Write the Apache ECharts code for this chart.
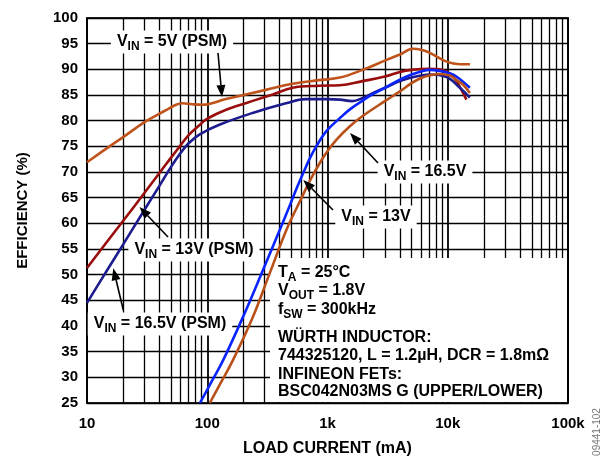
<!DOCTYPE html>
<html><head><meta charset="utf-8">
<script src="https://cdn.jsdelivr.net/npm/echarts/dist/echarts.min.js"></script>
<style>html,body{margin:0;padding:0;background:#fff}#c{width:603px;height:456px}</style>
</head><body><div id="c"></div>
<script>
// ---- data (load current in mA, efficiency in %) ----
const xTickLabels = { 10: '10', 100: '100', 1000: '1k', 10000: '10k', 100000: '100k' };
const minorGridX = [20,30,40,50,60,70,80,90,200,300,400,500,600,700,800,900,2000,3000,4000,5000,6000,7000,8000,9000,20000,30000,40000,50000,60000,70000,80000,90000];

const vin5Psm = [[10,71.9],[15,74.8],[20,76.8],[31,79.9],[45,82.0],[55,83.1],[62,83.4],[75,83.2],[91,83.1],[143,84.2],[307,86.0],[513,87.2],[850,87.9],[1267,88.4],[1960,89.9],[3000,91.7],[4000,92.9],[5150,94.0],[6000,93.8],[7100,93.2],[9770,91.5],[12600,91.0],[15300,91.0]];
const vin13Psm = [[10,51.3],[15,56.7],[20,60.5],[30,65.9],[40,69.8],[50,72.8],[60,75.2],[70,77.2],[85,79.0],[97.5,80.2],[130,81.7],[173,82.8],[250,84.0],[350,85.1],[513,86.4],[850,86.8],[1267,86.9],[1960,87.7],[3000,88.6],[4000,89.5],[5000,89.9],[7000,90.1],[8500,90.0],[10400,89.2],[11800,87.7],[13000,86.0],[14300,84.1]];
const vin165Psm = [[10,44.5],[15,51.2],[20,55.9],[30,62.6],[40,67.3],[50,71.0],[60,73.7],[70,75.6],[86,77.3],[126,79.2],[238,81.5],[451,83.4],[661,84.2],[1000,84.2],[1267,84.1],[1600,83.8],[1960,84.4],[2400,85.4],[3000,86.4],[4000,87.7],[5000,88.4],[6000,88.8],[7000,89.0],[9770,88.5],[12600,86.4],[15270,84.5]];
const vin13 = [[87,25],[110,29.4],[136,33.4],[199.5,41.9],[292,51.0],[402,58.8],[486,63.5],[553,66.8],[628,69.8],[714,72.7],[811,75.1],[982,78.0],[1267,80.5],[1535,82.2],[1960,83.9],[2400,85.2],[3000,86.4],[4000,88.0],[5000,89.0],[6000,89.6],[7000,89.9],[8600,89.7],[10400,89.2],[11800,88.6],[15270,86.4]];
const vin165 = [[105,25],[130,29.0],[164,33.4],[241,41.9],[331,50.3],[457,58.8],[590,64.3],[714,68.3],[865,71.8],[982,73.8],[1189,76.3],[1535,78.9],[1960,80.9],[3000,83.8],[4000,85.7],[5000,87.3],[6000,88.3],[7000,88.8],[8500,89.1],[10400,88.8],[12000,87.8],[13430,87.0],[15270,85.4]];

const FONT = '"Liberation Sans", Arial, sans-serif';
const chart = echarts.init(document.getElementById('c'), null, { renderer: 'canvas' });

function curve(name, data, color) {
  return { name, type: 'line', data, smooth: 0.4, symbol: 'none', z: 3,
    lineStyle: { color, width: 2.6 }, animation: false, silent: true };
}

const rich = {
  m: { fontSize: 16, fontWeight: 'bold', fontFamily: FONT, color: '#000' },
  s: { fontSize: 12, fontWeight: 'bold', fontFamily: FONT, color: '#000', padding: [9, 0, 0, 0] }
};

function label(text, x, y, align) {
  return { type: 'text', x, y, z: 10, silent: true,
    style: { text, rich, align: align || 'center', verticalAlign: 'middle',
      backgroundColor: '#fff', padding: [1, 6, 1, 6], fontFamily: FONT } };
}
function infoLine(text, x, y) {
  return { type: 'text', x, y, z: 10, silent: true,
    style: { text, rich, align: 'left', verticalAlign: 'middle', fontFamily: FONT } };
}
function arrow(x1, y1, x2, y2) {
  const a = Math.atan2(y2 - y1, x2 - x1), L = 12, W = 4.5;
  const bx = x2 - L * Math.cos(a), by = y2 - L * Math.sin(a);
  const px = -Math.sin(a) * W, py = Math.cos(a) * W;
  return [
    { type: 'line', z: 11, silent: true, shape: { x1, y1, x2: bx, y2: by }, style: { stroke: '#000', lineWidth: 1.6 } },
    { type: 'polygon', z: 11, silent: true, shape: { points: [[x2, y2], [bx + px, by + py], [bx - px, by - py]] }, style: { fill: '#000' } }
  ];
}

const graphics = [
  { type: 'rect', z: 2, silent: true, shape: { x: 270, y: 258, width: 297, height: 144 }, style: { fill: '#fff' } },
  label('{m|V}{s|IN}{m| = 5V (PSM)}', 172, 42),
  label('{m|V}{s|IN}{m| = 13V (PSM)}', 194, 250),
  label('{m|V}{s|IN}{m| = 16.5V (PSM)}', 160, 324),
  label('{m|V}{s|IN}{m| = 16.5V}', 425, 172),
  label('{m|V}{s|IN}{m| = 13V}', 376, 217),
  ...arrow(218, 53, 222, 97),
  ...arrow(168, 237, 139.5, 207),
  ...arrow(123.3, 310, 113.3, 268.3),
  ...arrow(378, 163, 350, 133),
  ...arrow(333, 210, 303.3, 180),
  infoLine('{m|T}{s|A}{m| = 25°C}', 278, 273),
  infoLine('{m|V}{s|OUT}{m| = 1.8V}', 278, 291),
  infoLine('{m|f}{s|SW}{m| = 300kHz}', 278, 310),
  infoLine('{m|WÜRTH INDUCTOR:}', 278, 338),
  infoLine('{m|744325120, L = 1.2µH, DCR = 1.8mΩ}', 278, 356),
  infoLine('{m|INFINEON FETs:}', 278, 375),
  infoLine('{m|BSC042N03MS G (UPPER/LOWER)}', 278, 392),
  { type: 'text', x: 597, y: 432, rotation: Math.PI / 2, z: 10, silent: true,
    style: { text: '09441-102', fontSize: 10, fontFamily: FONT, fill: '#777', align: 'center', verticalAlign: 'middle' } }
];

const option = {
  animation: false,
  backgroundColor: '#fff',
  grid: { left: 87, right: 35, top: 18, bottom: 53, containLabel: false, outerBoundsMode: 'none',
    show: true, borderColor: '#222', borderWidth: 2, backgroundColor: 'transparent' },
  xAxis: {
    type: 'log', logBase: 10, min: 10, max: 100000,
    name: 'LOAD CURRENT (mA)', nameLocation: 'middle', nameGap: 38,
    nameTextStyle: { fontSize: 16, fontWeight: 'bold', fontFamily: FONT, color: '#000' },
    axisLine: { show: false }, axisTick: { show: false },
    axisLabel: { fontSize: 15, fontWeight: 'bold', fontFamily: FONT, color: '#000', margin: 13,
      formatter: v => xTickLabels[Math.round(v)] || '' },
    splitLine: { show: true, lineStyle: { color: '#000', width: 1.8 } }
  },
  yAxis: {
    type: 'value', min: 25, max: 100, interval: 5,
    name: 'EFFICIENCY (%)', nameLocation: 'middle', nameGap: 57,
    nameTextStyle: { fontSize: 15, fontWeight: 'bold', fontFamily: FONT, color: '#000' },
    axisLine: { show: false }, axisTick: { show: false },
    axisLabel: { fontSize: 15, fontWeight: 'bold', fontFamily: FONT, color: '#000', margin: 9 },
    splitLine: { show: true, lineStyle: { color: '#000', width: 1.3 } }
  },
  series: [
    { type: 'line', data: [], silent: true, z: 1,
      markLine: { z: 1, silent: true, animation: false, symbol: ['none', 'none'], label: { show: false },
        lineStyle: { color: '#000', width: 1.3, type: 'solid' },
        data: minorGridX.map(v => ({ xAxis: v })) } },
    curve('VIN = 5V (PSM)', vin5Psm, '#C0531C'),
    curve('VIN = 13V (PSM)', vin13Psm, '#990D0D'),
    curve('VIN = 16.5V (PSM)', vin165Psm, '#1C1C8E'),
    curve('VIN = 13V', vin13, '#0A24FF'),
    curve('VIN = 16.5V', vin165, '#B8501A')
  ],
  graphic: { elements: graphics }
};
chart.setOption(option);
</script></body></html>
